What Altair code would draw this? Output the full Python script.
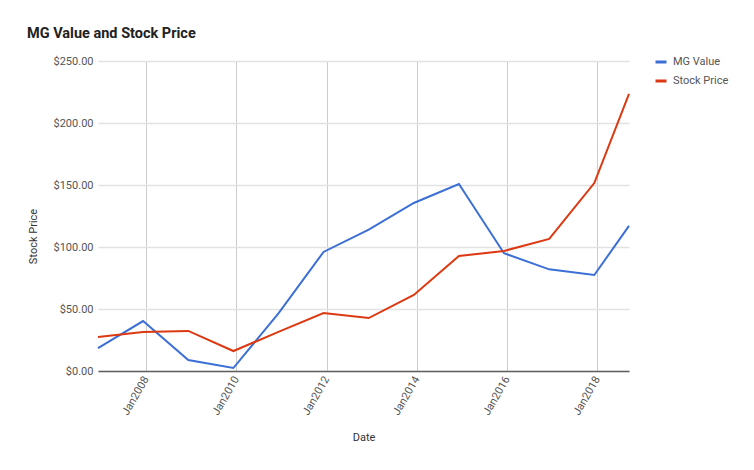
import altair as alt
import pandas as pd

dates = ["2006-12-08", "2007-12-08", "2008-12-08", "2009-12-08", "2010-12-08",
         "2011-12-08", "2012-12-08", "2013-12-08", "2014-12-08", "2015-12-08",
         "2016-12-08", "2017-12-08", "2018-09-15"]
mg_value = [18.5, 40.3, 8.9, 2.4, 46.5, 96.0, 114.0, 135.5, 150.8, 95.0, 82.0, 77.4, 117.0]
stock_price = [27.4, 31.5, 32.3, 16.1, 31.5, 46.8, 42.7, 61.3, 92.7, 96.8, 106.5, 151.6, 223.4]
series = ["MG Value", "Stock Price"]
colors = ["#3c6fd6", "#dc3912"]
tick_years = [2008, 2010, 2012, 2014, 2016, 2018]

rows = []
for d, a, b in zip(dates, mg_value, stock_price):
    rows.append({"Date": d + "T00:00:00", "Value": a, "Series": series[0]})
    rows.append({"Date": d + "T00:00:00", "Value": b, "Series": series[1]})
df = pd.DataFrame(rows)

FONT = "Roboto"

chart = alt.Chart(df).mark_line(strokeWidth=2).encode(
    x=alt.X("Date:T", title="Date",
            scale=alt.Scale(nice=False),
            axis=alt.Axis(values=[alt.DateTime(year=y, month=1, date=1) for y in tick_years],
                          format="%b%Y", labelAngle=-60, labelPadding=6,
                          ticks=False, grid=True, gridColor="#cccccc", gridWidth=1,
                          domainColor="#5f5f5f", domainWidth=1.5,
                          titleY=60, titleFontWeight="normal", titleFontSize=11,
                          titleColor="#333333",
                          labelFontSize=11, labelColor="#555555")),
    y=alt.Y("Value:Q", title="Stock Price",
            scale=alt.Scale(domain=[0, 250]),
            axis=alt.Axis(values=[0, 50, 100, 150, 200, 250], format="$.2f",
                          ticks=False, domain=False, labelPadding=5,
                          gridColor="#e2e2e2", gridWidth=1.5,
                          titleX=-60, titleY=175, titleFontWeight="normal",
                          titleFontSize=11, titleColor="#333333",
                          labelFontSize=11, labelColor="#555555")),
    color=alt.Color("Series:N", scale=alt.Scale(domain=series, range=colors),
                    legend=alt.Legend(title=None, orient="none", legendX=556, legendY=-6,
                                      symbolType="stroke", symbolStrokeWidth=3,
                                      symbolSize=121, labelFontSize=11,
                                      labelColor="#555555", rowPadding=6, padding=0,
                                      labelOffset=5)),
).properties(
    width=531, height=310,
    title=alt.TitleParams("MG Value and Stock Price", anchor="start", frame="bounds",
                          fontSize=14.5, fontWeight="bold", font=FONT, color="#212121",
                          offset=14),
    autosize=alt.AutoSizeParams(type="none"),
    padding={"left": 90, "top": 53, "right": 117, "bottom": 91},
).configure(font=FONT).configure_view(stroke=None)

chart.save("out.html", embed_options={"renderer": "svg", "actions": False})
